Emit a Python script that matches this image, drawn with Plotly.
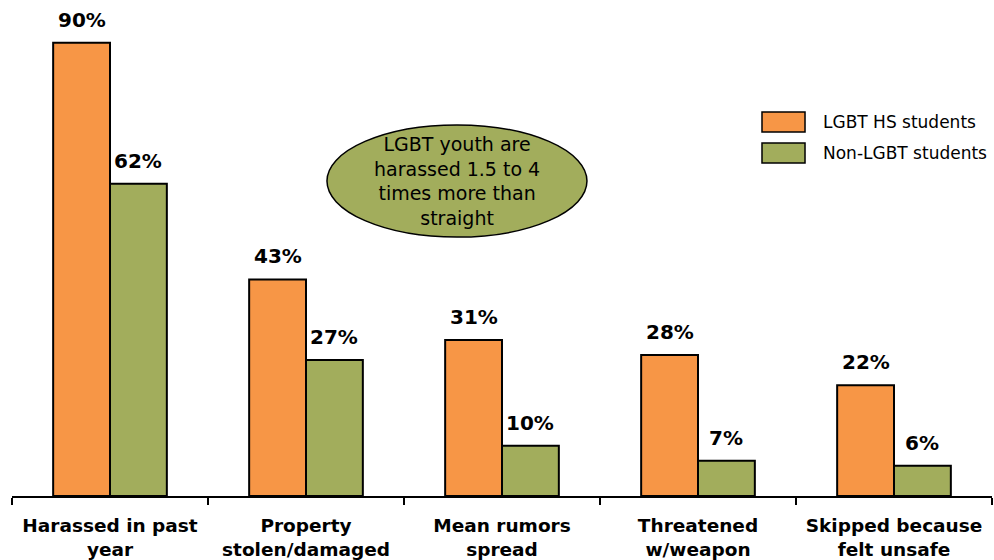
import plotly.graph_objects as go

# Survey categories and shares (%)
categories = [
    "Harassed in past<br>year",
    "Property<br>stolen/damaged",
    "Mean rumors<br>spread",
    "Threatened<br>w/weapon",
    "Skipped because<br>felt unsafe",
]
lgbt_values = [90, 43, 31, 28, 22]
non_lgbt_values = [62, 27, 10, 7, 6]
series_names = ["LGBT HS students", "Non-LGBT students"]

ORANGE = "#F79646"
OLIVE = "#A2AD5C"
FONT = "DejaVu Sans"

fig = go.Figure()
fig.add_trace(go.Bar(
    x=categories, y=lgbt_values, name=series_names[0],
    marker=dict(color=ORANGE, line=dict(color="black", width=2)),
))
fig.add_trace(go.Bar(
    x=categories, y=non_lgbt_values, name=series_names[1],
    marker=dict(color=OLIVE, line=dict(color="black", width=2)),
))

# Value labels above each bar
annotations = []
for vals, shift in ((lgbt_values, -28), (non_lgbt_values, 28)):
    for cat, v in zip(categories, vals):
        annotations.append(dict(
            x=cat, y=v, xref="x", yref="y", text=f"<b>{v}%</b>",
            showarrow=False, xshift=shift, yshift=9, yanchor="bottom",
            font=dict(family=FONT, size=20, color="black"),
        ))

# Callout bubble text
annotations.append(dict(
    x=0.454, y=0.635, xref="paper", yref="paper",
    text="LGBT youth are<br>harassed 1.5 to 4<br>times more than<br>straight",
    showarrow=False, xanchor="center", yanchor="middle", align="center",
    font=dict(family=FONT, size=19, color="black"),
))

# Legend labels
for name, ymid in zip(series_names, (0.754, 0.6915)):
    annotations.append(dict(
        x=0.8256, y=ymid, xref="paper", yref="paper", text=name,
        showarrow=False, xanchor="left", yanchor="middle",
        font=dict(family=FONT, size=17, color="black"),
    ))

shapes = [
    # callout ellipse
    dict(type="circle", xref="paper", yref="paper",
         x0=0.3214, x1=0.5867, y0=0.522, y1=0.748,
         fillcolor=OLIVE, line=dict(color="black", width=1.5), layer="above"),
    # legend swatches
    dict(type="rect", xref="paper", yref="paper",
         x0=0.7653, x1=0.8092, y0=0.7339, y1=0.7742,
         fillcolor=ORANGE, line=dict(color="black", width=1.5)),
    dict(type="rect", xref="paper", yref="paper",
         x0=0.7653, x1=0.8092, y0=0.6714, y1=0.7117,
         fillcolor=OLIVE, line=dict(color="black", width=1.5)),
]

fig.update_layout(
    width=994, height=560,
    margin=dict(l=12, r=2, t=0, b=64),
    paper_bgcolor="white", plot_bgcolor="white",
    barmode="group", bargap=0.42, bargroupgap=0,
    showlegend=False,
    annotations=annotations, shapes=shapes,
    font=dict(family=FONT, color="black"),
)
fig.update_xaxes(
    type="category", showline=True, linecolor="black", linewidth=2,
    ticks="outside", tickson="boundaries", ticklen=7, tickwidth=2, tickcolor="black",
    ticklabelstandoff=12,
    tickfont=dict(family=FONT, size=18.5, color="black", weight="bold"),
    showgrid=False, zeroline=False,
)
fig.update_yaxes(range=[0, 98.5], visible=False, showgrid=False, zeroline=False)

fig.write_html("out.html")
